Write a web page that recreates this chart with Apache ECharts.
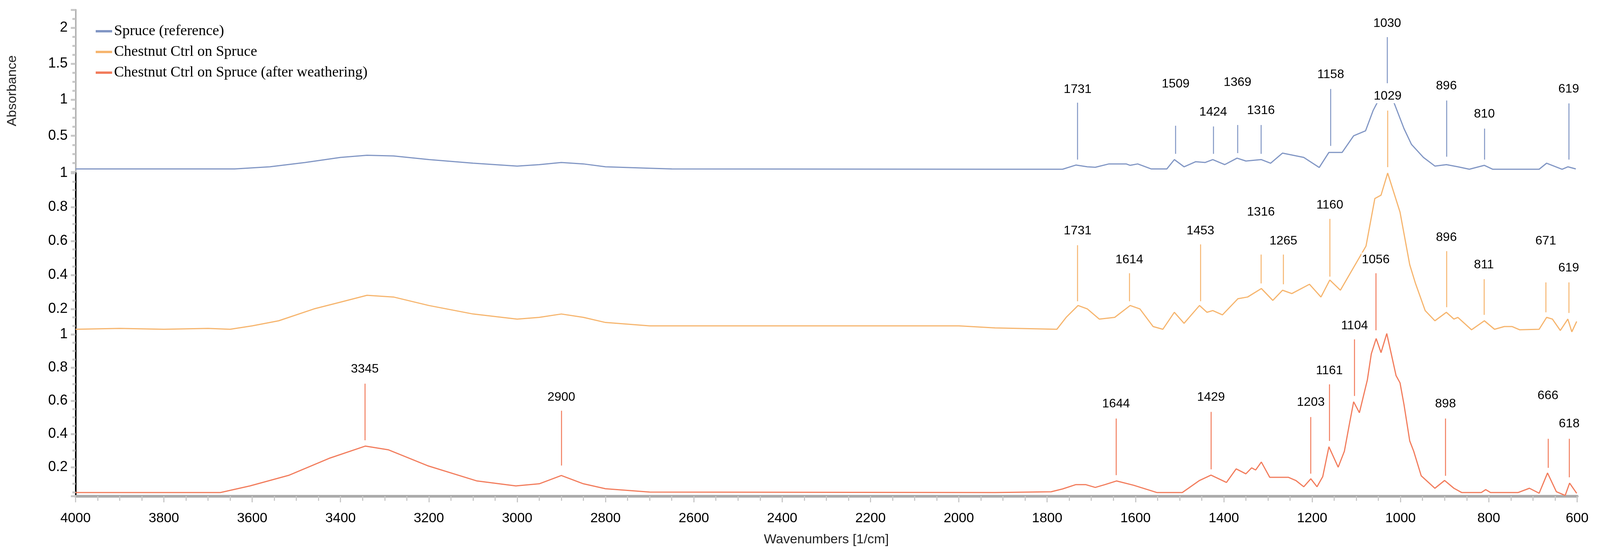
<!DOCTYPE html>
<html>
<head>
<meta charset="utf-8">
<script src="https://cdn.jsdelivr.net/npm/echarts@6/dist/echarts.min.js"></script>
<style>
  html, body { margin: 0; padding: 0; background: #fff; overflow: hidden; }
  #chart { width: 100vw; height: 100vh; }
</style>
</head>
<body>
<div id="chart"></div>
<script>
// spectra, wavenumber [1/cm] and absorbance
const spruceWn = [4000, 3640, 3560, 3480, 3400, 3340, 3280, 3200, 3100, 3000, 2950, 2900, 2850, 2800, 2700, 2650, 1918, 1765, 1735, 1709, 1691, 1660, 1621, 1612, 1595, 1564, 1529, 1512, 1490, 1464, 1442, 1425, 1398, 1370, 1350, 1315, 1294, 1267, 1219, 1184, 1162, 1132, 1106, 1079, 1062, 1045, 1030, 1014, 992, 975, 948, 922, 896, 870, 844, 810, 791, 686, 669, 634, 621, 603]
const spruceAbs = [0.04, 0.04, 0.07, 0.13, 0.2, 0.23, 0.22, 0.17, 0.12, 0.08, 0.1, 0.13, 0.11, 0.07, 0.05, 0.04, 0.036, 0.036, 0.094, 0.07, 0.063, 0.11, 0.11, 0.09, 0.11, 0.04, 0.04, 0.17, 0.07, 0.14, 0.13, 0.17, 0.1, 0.19, 0.15, 0.17, 0.12, 0.26, 0.2, 0.06, 0.27, 0.27, 0.5, 0.57, 0.85, 1.05, 1.14, 0.95, 0.6, 0.38, 0.2, 0.08, 0.1, 0.07, 0.036, 0.09, 0.036, 0.036, 0.12, 0.036, 0.07, 0.04]

const chestnutWn = [4000, 3900, 3800, 3700, 3650, 3600, 3540, 3460, 3400, 3340, 3280, 3200, 3100, 3000, 2950, 2900, 2850, 2800, 2700, 2400, 2000, 1918, 1778, 1757, 1730, 1709, 1682, 1647, 1612, 1590, 1560, 1538, 1512, 1490, 1455, 1438, 1425, 1403, 1368, 1346, 1315, 1289, 1267, 1246, 1206, 1180, 1160, 1136, 1116, 1078, 1058, 1044, 1029, 1001, 979, 966, 944, 922, 896, 879, 870, 839, 810, 787, 765, 747, 730, 686, 669, 656, 638, 621, 612, 601]
const chestnutAbs = [0.08, 0.085, 0.08, 0.085, 0.08, 0.1, 0.13, 0.2, 0.24, 0.28, 0.27, 0.22, 0.17, 0.14, 0.15, 0.17, 0.15, 0.12, 0.1, 0.1, 0.1, 0.088, 0.08, 0.15, 0.22, 0.2, 0.14, 0.15, 0.22, 0.2, 0.096, 0.08, 0.18, 0.115, 0.22, 0.18, 0.19, 0.165, 0.26, 0.27, 0.32, 0.25, 0.31, 0.29, 0.345, 0.27, 0.37, 0.31, 0.4, 0.57, 0.85, 0.87, 1.0, 0.77, 0.46, 0.35, 0.19, 0.13, 0.18, 0.14, 0.15, 0.077, 0.13, 0.08, 0.096, 0.096, 0.077, 0.08, 0.15, 0.14, 0.073, 0.14, 0.065, 0.126]

const weatheredWn = [4000, 3672, 3605, 3516, 3426, 3344, 3292, 3203, 3091, 3003, 2950, 2900, 2850, 2800, 2700, 1918, 1791, 1765, 1735, 1713, 1691, 1669, 1643, 1604, 1551, 1494, 1455, 1429, 1394, 1372, 1350, 1337, 1328, 1315, 1296, 1254, 1237, 1219, 1203, 1189, 1176, 1162, 1141, 1127, 1116, 1106, 1093, 1075, 1066, 1055, 1044, 1031, 1010, 1001, 992, 979, 970, 953, 922, 900, 879, 861, 817, 807, 796, 734, 708, 686, 667, 647, 627, 617, 601]
const weatheredAbs = [0.047, 0.047, 0.087, 0.152, 0.253, 0.327, 0.305, 0.209, 0.117, 0.087, 0.1, 0.15, 0.1, 0.07, 0.05, 0.047, 0.052, 0.069, 0.095, 0.095, 0.078, 0.095, 0.117, 0.091, 0.047, 0.047, 0.12, 0.152, 0.108, 0.19, 0.16, 0.196, 0.183, 0.231, 0.139, 0.139, 0.12, 0.082, 0.13, 0.082, 0.143, 0.323, 0.2, 0.296, 0.454, 0.594, 0.528, 0.725, 0.883, 0.975, 0.89, 1.005, 0.752, 0.708, 0.577, 0.358, 0.296, 0.148, 0.073, 0.12, 0.073, 0.047, 0.047, 0.065, 0.047, 0.047, 0.073, 0.043, 0.165, 0.052, 0.03, 0.104, 0.043]

// peak markers: wavenumber, line bottom, line top, line panel, label height, label panel
const sprucePeaks = [
  [1731, 0.17, 0.96, 0, 1.14, 0], [1509, 0.25, 0.64, 0, 1.22, 0], [1424, 0.25, 0.63, 0, 0.83, 0],
  [1369, 0.26, 0.65, 0, 1.24, 0], [1316, 0.25, 0.65, 0, 0.85, 0], [1158, 0.36, 1.15, 0, 1.35, 0],
  [1030, 1.23, 1.87, 0, 2.06, 0], [896, 0.21, 0.99, 0, 1.19, 0], [810, 0.17, 0.6, 0, 0.8, 0],
  [619, 0.17, 0.95, 0, 1.15, 0]
]
const chestnutPeaks = [
  [1731, 0.245, 0.575, 1, 0.66, 1], [1614, 0.245, 0.41, 1, 0.49, 1], [1453, 0.245, 0.58, 1, 0.66, 1],
  [1316, 0.35, 0.52, 1, 0.77, 1], [1265, 0.345, 0.52, 1, 0.6, 1], [1160, 0.39, 0.73, 1, 0.81, 1],
  [1029, 0.065, 0.85, 0, 1.05, 0], [896, 0.21, 0.54, 1, 0.62, 1], [811, 0.165, 0.375, 1, 0.46, 1],
  [671, 0.18, 0.356, 1, 0.6, 1], [619, 0.176, 0.356, 1, 0.44, 1]
]
const weatheredPeaks = [
  [3345, 0.362, 0.703, 2, 0.79, 2], [2900, 0.21, 0.54, 2, 0.62, 2], [1644, 0.152, 0.493, 2, 0.58, 2],
  [1429, 0.187, 0.533, 2, 0.62, 2], [1203, 0.161, 0.502, 2, 0.59, 2], [1161, 0.358, 0.699, 2, 0.78, 2],
  [1104, 0.629, 0.97, 2, 0.1, 1], [1056, 0.074, 0.41, 1, 0.49, 1], [898, 0.148, 0.493, 2, 0.58, 2],
  [666, 0.196, 0.371, 2, 0.63, 2], [618, 0.139, 0.371, 2, 0.46, 2]
]

const names = ['Spruce (reference)', 'Chestnut Ctrl on Spruce', 'Chestnut Ctrl on Spruce (after weathering)']
const colors = ['#8196c4', '#f6b56e', '#f27c5c']

const narrow = "'Liberation Sans Narrow', 'Liberation Sans', sans-serif"
const zip = (a, b) => a.map((v, i) => [v, b[i]])

// panel placement as fractions of the page
const grids = [
  { left: '4.72%', right: '1.43%', top: '1.75%', height: '29.1%' },
  { left: '4.72%', right: '1.43%', top: '31.07%', height: '28.96%' },
  { left: '4.72%', right: '1.43%', top: '60.03%', height: '29.03%' }
]

const xAxes = grids.map((g, i) => ({
  type: 'value', gridIndex: i, inverse: true, min: 600, max: 4000, interval: 200,
  show: i === 2,
  axisLine: { show: true, onZero: false, lineStyle: { color: '#ababab', width: 7 } },
  axisTick: { show: true, length: 16, lineStyle: { color: '#c8c8c8', width: 3 } },
  minorTick: { show: true, splitNumber: 4, length: 12, lineStyle: { color: '#c8c8c8', width: 3 } },
  splitLine: { show: false },
  axisLabel: { fontFamily: narrow, fontSize: 35, color: '#000', margin: 40, formatter: v => String(v) },
  name: i === 2 ? 'Wavenumbers [1/cm]' : '', nameLocation: 'middle', nameGap: 95,
  nameTextStyle: { fontFamily: 'Liberation Sans, Arial, sans-serif', fontSize: 34, color: '#222' }
}))

const yRange = [[0, 2.25], [0.05, 1], [0.026, 1]]
const yAxes = grids.map((g, i) => ({
  type: 'value', gridIndex: i, min: yRange[i][0], max: yRange[i][1],
  splitNumber: i === 0 ? 4 : 5,
  axisLine: { show: true, onZero: false, lineStyle: { color: i === 0 ? '#b4b4b4' : '#000', width: 4 } },
  axisTick: { show: true, length: 12, lineStyle: { color: '#c8c8c8', width: 5 } },
  minorTick: { show: true, splitNumber: 4, length: 8, lineStyle: { color: '#c8c8c8', width: 5 } },
  splitLine: { show: false },
  axisLabel: {
    fontFamily: narrow, fontSize: 36, color: '#000', margin: 20,
    showMinLabel: false, showMaxLabel: i !== 0
  },
  name: i === 0 ? 'Absorbance' : '', nameLocation: 'middle', nameGap: 145,
  nameTextStyle: { fontFamily: 'Liberation Sans, Arial, sans-serif', fontSize: 34, color: '#222' }
}))

const spectra = [
  zip(spruceWn, spruceAbs), zip(chestnutWn, chestnutAbs), zip(weatheredWn, weatheredAbs)
]
const peaks = [sprucePeaks, chestnutPeaks, weatheredPeaks]

const series = spectra.map((d, i) => ({
  name: names[i], type: 'line', xAxisIndex: i, yAxisIndex: i, data: d,
  showSymbol: false, clip: false, z: 2,
  lineStyle: { color: colors[i], width: 3 }, itemStyle: { color: colors[i] }
}))

// peak lines and their labels, one helper series per spectrum and panel
peaks.forEach((list, i) => {
  [0, 1, 2].forEach(p => {
    const lines = list.filter(k => k[3] === p)
    const labels = list.filter(k => k[5] === p)
    if (!lines.length && !labels.length) return
    series.push({
      type: 'line', xAxisIndex: p, yAxisIndex: p, data: [], clip: false, z: 3,
      markLine: {
        silent: true, symbol: 'none', animation: false,
        lineStyle: { color: colors[i], width: 2.5, type: 'solid' },
        label: { show: false },
        data: lines.map(k => [{ coord: [k[0], k[1]] }, { coord: [k[0], k[2]] }])
      },
      markPoint: {
        silent: true, animation: false, symbol: 'rect', symbolSize: 1,
        itemStyle: { color: 'rgba(0,0,0,0)' },
        label: {
          show: true, position: 'inside', fontFamily: narrow, fontSize: 32, color: '#000',
          backgroundColor: '#fff', padding: [2, 1]
        },
        data: labels.map(k => ({ coord: [k[0], k[4]], label: { formatter: String(k[0]) } }))
      }
    })
  })
})

const chart = echarts.init(document.getElementById('chart'))
chart.setOption({
  animation: false,
  grid: grids,
  xAxis: xAxes,
  yAxis: yAxes,
  legend: {
    data: names, orient: 'vertical', left: 240, top: 56, itemGap: 15,
    icon: 'rect', itemWidth: 42, itemHeight: 6,
    textStyle: { fontFamily: 'Liberation Serif, serif', fontSize: 38, color: '#000' }
  },
  series: series
})
</script>
</body>
</html>
